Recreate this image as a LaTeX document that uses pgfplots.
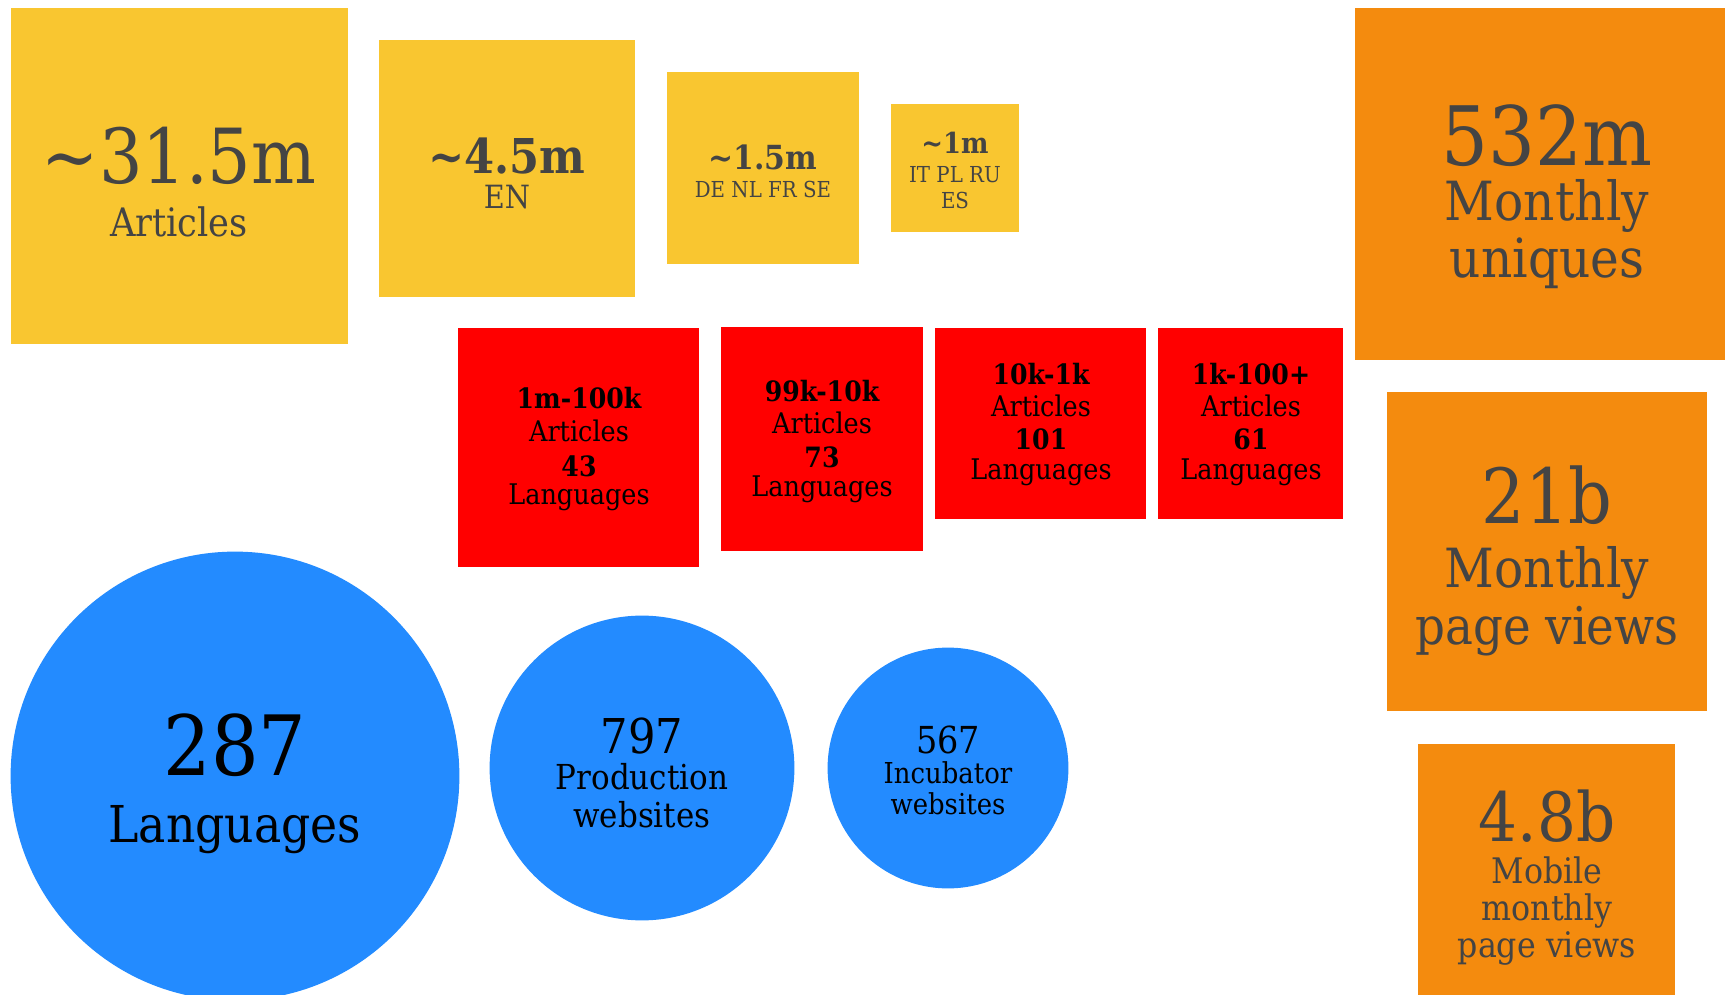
\documentclass[border=0pt]{standalone}
\usepackage{pgfplots}
\pgfplotsset{compat=1.18}
\usepackage{fontspec}
\setmainfont{DejaVu Serif}[FakeStretch=0.9]

\definecolor{wyellow}{HTML}{F9C630}
\definecolor{wred}{HTML}{FF0000}
\definecolor{worange}{HTML}{F48B0E}
\definecolor{wblue}{HTML}{238BFF}
\definecolor{wtext}{HTML}{444444}

% one pixel of the reference = 0.25pt
\newcommand{\lbl}[4]{\node[anchor=base, inner sep=0pt, text=#1] at (axis cs:#2) {\fontsize{#3}{#3}\selectfont #4};}

\begin{document}
\begin{tikzpicture}
  \useasboundingbox (0,0) rectangle (431.25pt,248.75pt);
  \begin{axis}[
      at={(0,0)}, anchor=south west,
      scale only axis,
      width=431.25pt, height=248.75pt,
      xmin=0, xmax=1725, ymin=0, ymax=995,
      y dir=reverse,
      hide axis,
      clip marker paths=true,
    ]
    % article boxes
    \addplot[fill=wyellow, draw=none] coordinates {(11,8) (348,8) (348,344) (11,344)};
    \addplot[fill=wyellow, draw=none] coordinates {(379,40) (635,40) (635,297) (379,297)};
    \addplot[fill=wyellow, draw=none] coordinates {(667,72) (859,72) (859,264) (667,264)};
    \addplot[fill=wyellow, draw=none] coordinates {(891,104) (1019,104) (1019,232) (891,232)};
    % language groups
    \addplot[fill=wred, draw=none] coordinates {(458,328) (699,328) (699,567) (458,567)};
    \addplot[fill=wred, draw=none] coordinates {(721,327) (923,327) (923,551) (721,551)};
    \addplot[fill=wred, draw=none] coordinates {(935,328) (1146,328) (1146,519) (935,519)};
    \addplot[fill=wred, draw=none] coordinates {(1158,328) (1343,328) (1343,519) (1158,519)};
    % readers
    \addplot[fill=worange, draw=none] coordinates {(1355,8) (1730,8) (1730,360) (1355,360)};
    \addplot[fill=worange, draw=none] coordinates {(1387,392) (1707,392) (1707,711) (1387,711)};
    \addplot[fill=worange, draw=none] coordinates {(1418,744) (1675,744) (1675,1000) (1418,1000)};
    % circles, mark size = radius * 0.25pt
    \addplot[wblue, only marks, mark=*, mark size=55.9pt] coordinates {(235,776)};
    \addplot[wblue, only marks, mark=*, mark size=37.9pt] coordinates {(642,768)};
    \addplot[wblue, only marks, mark=*, mark size=29.9pt] coordinates {(948,768)};

    % labels: colour, baseline position, size, text
    \lbl{wtext}{179,184}{19}{\textasciitilde 31.5m}
    \lbl{wtext}{179,237}{9.8}{Articles}
    \lbl{wtext}{507,174}{12}{\bfseries\textasciitilde 4.5m}
    \lbl{wtext}{507,209}{8}{EN}
    \lbl{wtext}{763,170}{8.3}{\bfseries\textasciitilde 1.5m}
    \lbl{wtext}{763,198}{5.5}{DE NL FR SE}
    \lbl{wtext}{955,154}{7.2}{\bfseries\textasciitilde 1m}
    \lbl{wtext}{955,183}{5.5}{IT PL RU}
    \lbl{wtext}{955,209}{5.5}{ES}

    \lbl{black}{579,409}{7}{\bfseries 1m-100k}
    \lbl{black}{579,441}{7.1}{Articles}
    \lbl{black}{579,476}{7}{\bfseries 43}
    \lbl{black}{579,504}{7.1}{Languages}
    \lbl{black}{822,401}{7}{\bfseries 99k-10k}
    \lbl{black}{822,433}{7.1}{Articles}
    \lbl{black}{822,468}{7}{\bfseries 73}
    \lbl{black}{822,497}{7.1}{Languages}
    \lbl{black}{1041,384}{7}{\bfseries 10k-1k}
    \lbl{black}{1041,416}{7.1}{Articles}
    \lbl{black}{1041,449}{7}{\bfseries 101}
    \lbl{black}{1041,480}{7.1}{Languages}
    \lbl{black}{1251,384}{7}{\bfseries 1k-100+}
    \lbl{black}{1251,416}{7.1}{Articles}
    \lbl{black}{1251,449}{7}{\bfseries 61}
    \lbl{black}{1251,480}{7.1}{Languages}

    \lbl{black}{235,775}{20.8}{287}
    \lbl{black}{235,842}{12.7}{Languages}
    \lbl{black}{642,753}{12}{797}
    \lbl{black}{642,789}{8.6}{Production}
    \lbl{black}{642,827}{8.6}{websites}
    \lbl{black}{948,753}{9.3}{567}
    \lbl{black}{948,783}{7.2}{Incubator}
    \lbl{black}{948,814}{7.2}{websites}

    \lbl{wtext}{1547,166}{20.5}{532m}
    \lbl{wtext}{1547,221}{13.5}{Monthly}
    \lbl{wtext}{1547,278}{13.5}{uniques}
    \lbl{wtext}{1547,523}{19}{21b}
    \lbl{wtext}{1547,587}{13.5}{Monthly}
    \lbl{wtext}{1547,644}{13}{page views}
    \lbl{wtext}{1547,841}{17}{4.8b}
    \lbl{wtext}{1547,883}{8.8}{Mobile}
    \lbl{wtext}{1547,920}{8.8}{monthly}
    \lbl{wtext}{1547,957}{8.8}{page views}
  \end{axis}
\end{tikzpicture}
\end{document}
